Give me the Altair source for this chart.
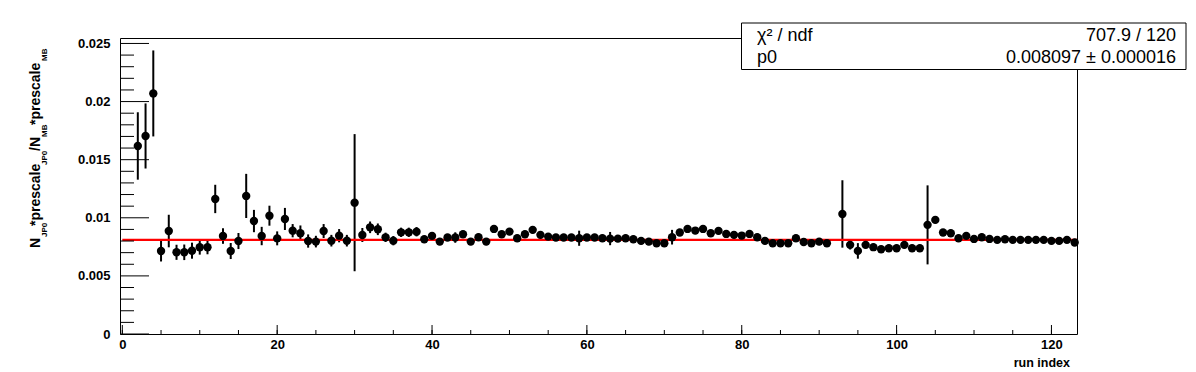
import altair as alt
import pandas as pd

# ---------------- data ----------------
run_index = [2, 3, 4, 5, 6, 7, 8, 9, 10, 11, 12, 13, 14, 15, 16, 17, 18, 19, 20, 21,
             22, 23, 24, 25, 26, 27, 28, 29, 30, 31, 32, 33, 34, 35, 36, 37, 38, 39, 40, 41,
             42, 43, 44, 45, 46, 47, 48, 49, 50, 51, 52, 53, 54, 55, 56, 57, 58, 59, 60, 61,
             62, 63, 64, 65, 66, 67, 68, 69, 70, 71, 72, 73, 74, 75, 76, 77, 78, 79, 80, 81,
             82, 83, 84, 85, 86, 87, 88, 89, 90, 91, 93, 94, 95, 96, 97, 98, 99, 100, 101, 102,
             103, 104, 105, 106, 107, 108, 109, 110, 111, 112, 113, 114, 115, 116, 117, 118, 119, 120, 121, 122,
             123]
ratio = [0.01618, 0.01704, 0.02070, 0.00714, 0.00886, 0.00703, 0.00703, 0.00717, 0.00746, 0.00746,
         0.01162, 0.00843, 0.00714, 0.00800, 0.01188, 0.00972, 0.00843, 0.01018, 0.00823, 0.00990,
         0.00889, 0.00867, 0.00800, 0.00795, 0.00886, 0.00803, 0.00846, 0.00803, 0.01130, 0.00852,
         0.00918, 0.00901, 0.00832, 0.00803, 0.00875, 0.00875, 0.00880, 0.00815, 0.00844, 0.00795,
         0.00830, 0.00830, 0.00858, 0.00795, 0.00833, 0.00795, 0.00904, 0.00858, 0.00881, 0.00824,
         0.00858, 0.00896, 0.00853, 0.00838, 0.00830, 0.00830, 0.00830, 0.00824, 0.00830, 0.00830,
         0.00824, 0.00821, 0.00821, 0.00824, 0.00815, 0.00801, 0.00795, 0.00781, 0.00781, 0.00833,
         0.00873, 0.00904, 0.00890, 0.00904, 0.00867, 0.00887, 0.00861, 0.00853, 0.00847, 0.00861,
         0.00833, 0.00801, 0.00781, 0.00781, 0.00781, 0.00824, 0.00792, 0.00781, 0.00795, 0.00781,
         0.01033, 0.00767, 0.00715, 0.00767, 0.00747, 0.00729, 0.00738, 0.00738, 0.00767, 0.00738,
         0.00738, 0.00939, 0.00982, 0.00873, 0.00867, 0.00824, 0.00844, 0.00818, 0.00833, 0.00818,
         0.00810, 0.00815, 0.00810, 0.00810, 0.00810, 0.00810, 0.00810, 0.00801, 0.00801, 0.00810,
         0.00787]
ratio_err = [0.0029, 0.0028, 0.0037, 0.0009, 0.0014, 0.00065, 0.00067, 0.00069, 0.00063, 0.0006,
             0.00122, 0.00067, 0.00069, 0.00069, 0.0019, 0.00096, 0.00079, 0.00086, 0.0006, 0.00095,
             0.00057, 0.00067, 0.00057, 0.0005, 0.0006, 0.0005, 0.00057, 0.0005, 0.0059, 0.0006,
             0.0005, 0.0005, 0.0004, 0.0004, 0.0004, 0.0004, 0.0004, 0.0003, 0.0003, 0.0003,
             0.0003, 0.00045, 0.0003, 0.0003, 0.0003, 0.0003, 0.0003, 0.0003, 0.0003, 0.0003,
             0.0003, 0.0003, 0.0003, 0.0003, 0.0003, 0.0003, 0.0003, 0.00065, 0.0003, 0.0003,
             0.0003, 0.00057, 0.0003, 0.0003, 0.0003, 0.0003, 0.0003, 0.0003, 0.0003, 0.00063,
             0.0003, 0.0003, 0.0003, 0.0003, 0.0003, 0.0003, 0.0003, 0.0003, 0.0003, 0.0003,
             0.0003, 0.0003, 0.0003, 0.0003, 0.0003, 0.0003, 0.0003, 0.0003, 0.0003, 0.0003,
             0.0029, 0.0004, 0.00067, 0.0003, 0.0003, 0.0003, 0.0003, 0.0003, 0.0003, 0.0003,
             0.0003, 0.0034, 0.0003, 0.0003, 0.0003, 0.0003, 0.0003, 0.0003, 0.0003, 0.0003,
             0.00025, 0.00025, 0.00025, 0.00025, 0.00025, 0.00025, 0.00025, 0.00025, 0.00025, 0.00025,
             0.00025]

fit_p0 = 0.008097
fit_range = [0.0, 123.3]
stat_names = ["\u03c7\u00b2 / ndf", "p0"]
stat_values = ["707.9 / 120", "0.008097 \u00b1 0.000016"]

x_major = [0, 20, 40, 60, 80, 100, 120]
x_minor = [0, 5, 10, 15, 20, 25, 30, 35, 40, 45, 50, 55, 60, 65, 70, 75, 80, 85, 90, 95,
           100, 105, 110, 115, 120]
y_major = [0, 0.005, 0.01, 0.015, 0.02, 0.025]
y_minor = [0.001, 0.002, 0.003, 0.004, 0.006, 0.007, 0.008, 0.009, 0.011, 0.012, 0.013,
           0.014, 0.016, 0.017, 0.018, 0.019, 0.021, 0.022, 0.023, 0.024]
x_domain = [-0.3, 123.3]
y_domain = [0, 0.02547]
x_title = "run index"

# ---------------- layout ----------------
W, H = 957, 296
FONT = "Liberation Sans"

xs = alt.Scale(domain=x_domain, nice=False, zero=False)
ys = alt.Scale(domain=y_domain, nice=False, zero=False)

df = pd.DataFrame({"run": run_index, "ratio": ratio, "err": ratio_err})
df["lo"] = df["ratio"] - df["err"]
df["hi"] = df["ratio"] + df["err"]

one = pd.DataFrame({"a": [0]})

xaxis = alt.Axis(values=x_major, format="d", tickSize=0, domain=False, grid=False,
                 labelFont=FONT, labelFontWeight="bold", labelFontSize=13,
                 labelColor="black", labelPadding=4, title=None)
yaxis = alt.Axis(values=y_major, format="~g", tickSize=0, domain=False, grid=False,
                 labelFont=FONT, labelFontWeight="bold", labelFontSize=13,
                 labelColor="black", labelPadding=10, title=None)

errbars = alt.Chart(df).mark_rule(color="black", strokeWidth=2).encode(
    x=alt.X("run:Q", scale=xs, axis=xaxis),
    y=alt.Y("lo:Q", scale=ys, axis=yaxis),
    y2="hi:Q",
)

fit_df = pd.DataFrame({"x0": [fit_range[0]], "x1": [fit_range[1]], "p0": [fit_p0]})
fit = alt.Chart(fit_df).mark_rule(color="#ff0000", strokeWidth=2.2).encode(
    x=alt.X("x0:Q", scale=xs), x2="x1:Q", y=alt.Y("p0:Q", scale=ys))

points = alt.Chart(df).mark_circle(color="black", opacity=1, size=70).encode(
    x=alt.X("run:Q", scale=xs), y=alt.Y("ratio:Q", scale=ys))

ymaj = alt.Chart(pd.DataFrame({"v": y_major})).mark_rule(color="black", strokeWidth=1).encode(
    y=alt.Y("v:Q", scale=ys), x=alt.value(0), x2=alt.value(29))
ymin = alt.Chart(pd.DataFrame({"v": y_minor})).mark_rule(color="black", strokeWidth=1).encode(
    y=alt.Y("v:Q", scale=ys), x=alt.value(0), x2=alt.value(14))
xmaj = alt.Chart(pd.DataFrame({"v": x_major})).mark_rule(color="black", strokeWidth=1).encode(
    x=alt.X("v:Q", scale=xs), y=alt.value(H), y2=alt.value(H - 9))
xmin = alt.Chart(pd.DataFrame({"v": x_minor})).mark_rule(color="black", strokeWidth=1).encode(
    x=alt.X("v:Q", scale=xs), y=alt.value(H), y2=alt.value(H - 4))

# stats box
box = alt.Chart(one).mark_rect(fill="white", stroke="black", strokeWidth=1).encode(
    x=alt.value(621.5), x2=alt.value(1066), y=alt.value(-15), y2=alt.value(31.5))
stat_layers = []
for k, (nm, val) in enumerate(zip(stat_names, stat_values)):
    yy = -2.5 + 22.5 * k
    stat_layers.append(alt.Chart(one).mark_text(
        text=nm, font=FONT, fontSize=18, align="left", baseline="middle", color="black"
    ).encode(x=alt.value(637), y=alt.value(yy)))
    stat_layers.append(alt.Chart(one).mark_text(
        text=val, font=FONT, fontSize=18, align="right", baseline="middle", color="black"
    ).encode(x=alt.value(1056), y=alt.value(yy)))

# x title
xtitle = alt.Chart(one).mark_text(
    text=x_title, font=FONT, fontSize=12.5, fontWeight="bold", align="right",
    baseline="alphabetic", color="black").encode(x=alt.value(950), y=alt.value(329))

# y title (pieces with subscripts)
ytitle_parts = [("N", 248, "main"), ("JP0", 237, "sub"), ("*prescale", 226, "main"),
                ("JP0", 165, "sub"), ("/N", 151, "main"), ("MB", 137, "sub"),
                ("*prescale", 125, "main"), ("MB", 61, "sub")]
ytitle_layers = []
for txt, py, kind in ytitle_parts:
    main = kind == "main"
    ytitle_layers.append(alt.Chart(one).mark_text(
        text=txt, font=FONT, fontSize=14 if main else 8, fontWeight="bold",
        align="left", baseline="middle", angle=270, color="black"
    ).encode(x=alt.value(-84 if main else -75.5), y=alt.value(py - 38)))

chart = alt.layer(
    errbars, fit, points, ymaj, ymin, xmaj, xmin, xtitle, *ytitle_layers, box, *stat_layers
).properties(
    width=W, height=H,
    padding={"left": 112, "top": 30, "right": 110, "bottom": 38},
    autosize=alt.AutoSizeParams(type="none"),
    background="white",
).configure_view(stroke="black", strokeWidth=1)

chart.save("out.html", embed_options={"renderer": "svg", "actions": False})
